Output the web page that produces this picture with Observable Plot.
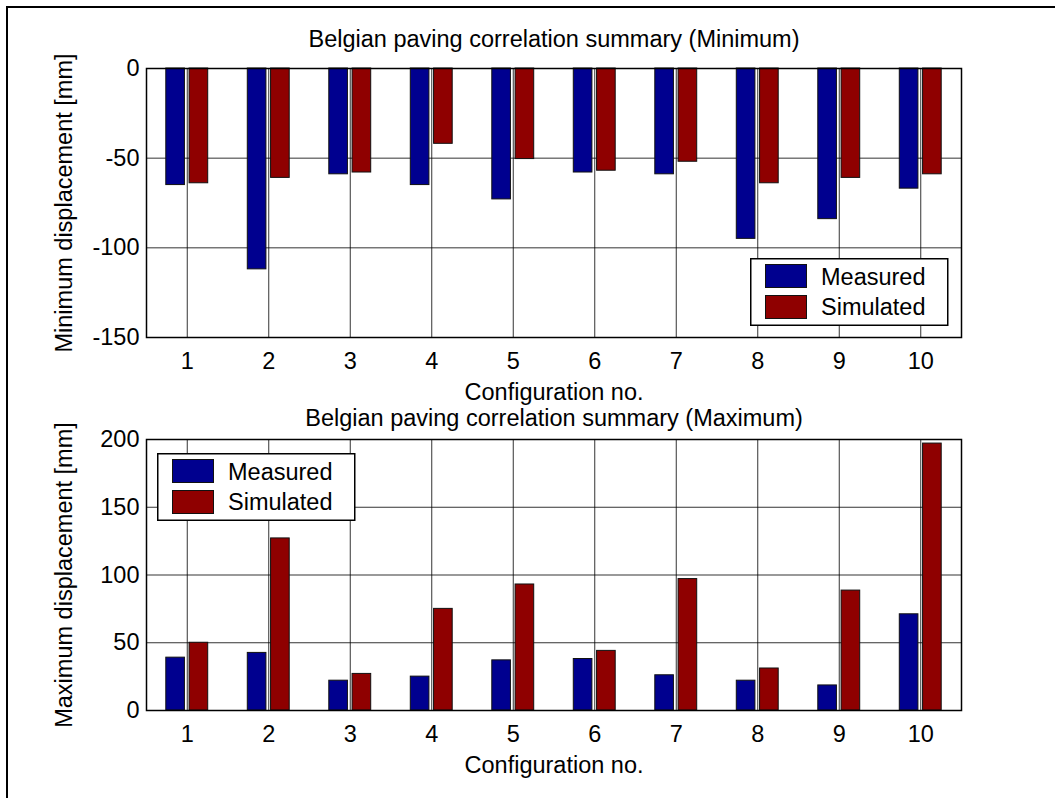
<!DOCTYPE html>
<html>
<head>
<meta charset="utf-8">
<script src="https://cdn.jsdelivr.net/npm/d3@7"></script>
<script src="https://cdn.jsdelivr.net/npm/@observablehq/plot@0.6"></script>
<style>
  html, body { margin: 0; padding: 0; background: #fff; overflow: hidden; }
  #figure { position: relative; width: 1055px; height: 798px; overflow: hidden; background: #fff; }
  #figure .edge { position: absolute; left: 6px; top: 6px; width: 1200px; height: 1000px;
                  border-left: 2px solid #000; border-top: 2px solid #000; }
  #figure .panel { position: absolute; left: 0; }
  #figure svg.legend { position: absolute; overflow: visible; }
</style>
</head>
<body>
<div id="figure"><div class="edge"></div></div>
<script>
// Configuration numbers and the two series
const configs = [1, 2, 3, 4, 5, 6, 7, 8, 9, 10];
const seriesNames = ["Measured", "Simulated"];
const seriesColors = ["#00008f", "#8f0000"];

// Minimum displacement [mm]
const minMeasured  = [-65, -112, -59, -65, -73, -58, -59, -95, -84, -67];
const minSimulated = [-64,  -61, -58, -42, -50.5, -57, -52, -64, -61, -59];

// Maximum displacement [mm]
const maxMeasured  = [39, 42.5, 22, 25, 37, 38, 26, 22, 18.5, 71];
const maxSimulated = [50, 127,  27, 75, 93, 44, 97, 31, 88.5, 197];

// Axis ticks
const minTicks = [0, -50, -100, -150];
const maxTicks = [0, 50, 100, 150, 200];

const titles = ["Belgian paving correlation summary (Minimum)", "Belgian paving correlation summary (Maximum)"];
const yLabels = ["Minimum displacement [mm]", "Maximum displacement [mm]"];
const xLabel = "Configuration no.";

const FONT = '"Liberation Sans", Arial, Helvetica, sans-serif';
const FS = 23.5;

// grouped-bar geometry, in configuration units
const groupWidth = 0.5714;
const barWidth = 0.2286;
const centerOf = d => d.config + (d.series === "Measured" ? -1 : 1) * groupWidth / 4;

function rows(measured, simulated) {
  return configs.flatMap((c, i) => [
    {config: c, series: seriesNames[0], value: measured[i]},
    {config: c, series: seriesNames[1], value: simulated[i]}
  ]);
}

function panel({data, yDomain, yTicks, title, titleGap, yLabel, height, marginTop, marginBottom}) {
  return Plot.plot({
    width: 1055,
    height,
    marginLeft: 146,
    marginRight: 94,
    marginTop,
    marginBottom,
    style: {fontFamily: FONT, fontSize: FS + "px", background: "transparent", overflow: "visible", color: "#000"},
    x: {domain: [0.5, 10.5]},
    y: {domain: yDomain},
    color: {domain: seriesNames, range: seriesColors},
    marks: [
      Plot.gridX(configs, {stroke: "#000", strokeOpacity: 0.8, strokeWidth: 1}),
      Plot.gridY(yTicks, {stroke: "#000", strokeOpacity: 0.8, strokeWidth: 1}),
      Plot.rectY(data, {
        x1: d => centerOf(d) - barWidth / 2,
        x2: d => centerOf(d) + barWidth / 2,
        y1: 0,
        y2: "value",
        fill: "series",
        stroke: "#111",
        strokeWidth: 1
      }),
      Plot.frame({stroke: "#000", strokeWidth: 1.5}),
      Plot.axisX({ticks: configs, tickSize: 0, tickPadding: 15.3, tickFormat: d => String(d), fontSize: FS, label: null}),
      Plot.axisY({ticks: yTicks, tickSize: 0, tickPadding: 7, tickFormat: d => String(d), fontSize: FS, label: null}),
      Plot.text([title], {text: d => d, frameAnchor: "top", dy: -titleGap, lineAnchor: "bottom", fontSize: FS, fill: "#000"}),
      Plot.text([xLabel], {text: d => d, frameAnchor: "bottom", dy: 62, lineAnchor: "bottom", fontSize: FS, fill: "#000"}),
      Plot.text([yLabel], {text: d => d, frameAnchor: "left", dx: -74.5, rotate: -90, textAnchor: "middle", lineAnchor: "bottom", fontSize: FS, fill: "#000"})
    ]
  });
}

function legend(plot, left, top) {
  const color = plot.scale("color");
  const svg = d3.create("svg")
    .attr("class", "legend")
    .attr("width", 200)
    .attr("height", 70)
    .style("left", left + "px")
    .style("top", top + "px");
  svg.append("rect")
    .attr("x", 0.75).attr("y", 0.75)
    .attr("width", 197).attr("height", 66.5)
    .attr("fill", "#fff").attr("stroke", "#000").attr("stroke-width", 1.5);
  color.domain.forEach((name, i) => {
    svg.append("rect")
      .attr("x", 15.5).attr("y", 6.5 + 31 * i)
      .attr("width", 41).attr("height", 23)
      .attr("fill", color.range[i]).attr("stroke", "#111").attr("stroke-width", 1);
    svg.append("text")
      .attr("x", 71).attr("y", 26.5 + 30 * i)
      .attr("font-family", FONT).attr("font-size", FS)
      .attr("fill", "#000")
      .text(name);
  });
  return svg.node();
}

const figure = document.getElementById("figure");

const minPanel = panel({
  data: rows(minMeasured, minSimulated),
  yDomain: [-150, 0],
  yTicks: minTicks,
  title: titles[0],
  titleGap: 21.3,
  yLabel: yLabels[0],
  height: 405,
  marginTop: 68,
  marginBottom: 68
});
minPanel.classList.add("panel");
minPanel.style.top = "0px";
figure.appendChild(minPanel);

const maxPanel = panel({
  data: rows(maxMeasured, maxSimulated),
  yDomain: [0, 200],
  yTicks: maxTicks,
  title: titles[1],
  titleGap: 14,
  yLabel: yLabels[1],
  height: 393,
  marginTop: 34,
  marginBottom: 88
});
maxPanel.classList.add("panel");
maxPanel.style.top = "405px";
figure.appendChild(maxPanel);

figure.appendChild(legend(minPanel, 750, 258));
figure.appendChild(legend(maxPanel, 157, 453));
</script>
</body>
</html>
